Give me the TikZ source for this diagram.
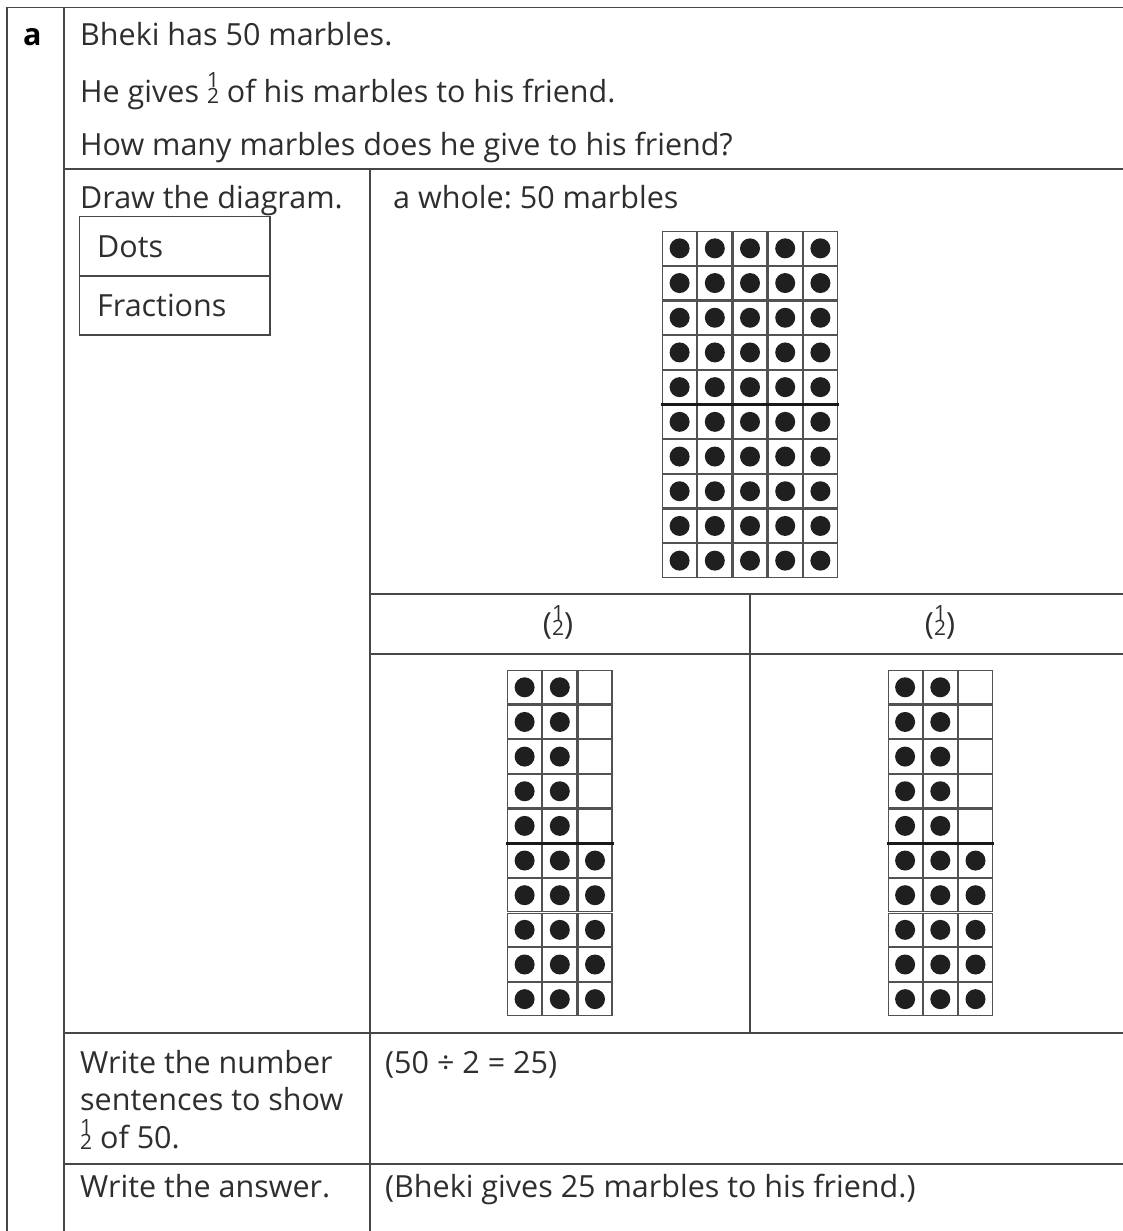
\documentclass[tikz,border=0pt]{standalone}
\usepackage{fontspec}
\setmainfont{Open Sans}
\frenchspacing
\newcommand\hlf{\raisebox{-1.5pt}{\fontsize{21}{15.5}\selectfont\vbox{\halign{\hfil##\hfil\cr 1\cr 2\cr}}}}
\tikzset{
  tline/.style={draw=black!72, line width=1.4pt},
  cellbox/.style={draw=black!68, line width=1.1pt},
  marble/.style={fill=black!88},
  midbar/.style={draw=black!90, line width=3pt},
  txt/.style={anchor=base west, inner sep=0pt, font=\fontsize{30.5}{36}\selectfont, text=black!82},
}
\begin{document}
\begin{tikzpicture}[x=1pt,y=-1pt]
\useasboundingbox (0,0) rectangle (1123,1231);
% table lines
\draw[tline] (1123,7.5) -- (7,7.5) -- (7,1231);
\draw[tline] (64,7.5) -- (64,1231);
\draw[tline] (64,169) -- (1123,169);
\draw[tline] (370,169) -- (370,1231);
\draw[tline] (370,594) -- (1123,594);
\draw[tline] (370,654) -- (1123,654);
\draw[tline] (750,594) -- (750,1033);
\draw[tline] (64,1033) -- (1123,1033);
\draw[tline] (64,1164) -- (1123,1164);
% Dots / Fractions box
\draw[tline] (79.5,216.5) rectangle (270,335);
\draw[tline] (79.5,276) -- (270,276);
% texts
\node[txt,font=\fontsize{30.5}{36}\selectfont\bfseries,text=black] (lbl) at (23,46) {a};
\node[txt] (t1) at (80,46) {Bheki has 50 marbles.};
\node[txt] (t2) at (80,102) {He gives \hlf\ of his marbles to his friend.};
\node[txt] (t3) at (80,155) {How many marbles does he give to his friend?};
\node[txt] (t4) at (80,208) {Draw the diagram.};
\node[txt] (t5) at (97,257) {Dots};
\node[txt] (t6) at (97,316) {Fractions};
\node[txt] (t7) at (393,208) {a whole: 50 marbles};
\node[txt,anchor=base] (h1) at (558,634) {(\hlf)};
\node[txt,anchor=base] (h2) at (940,634) {(\hlf)};
\node[txt] (t8) at (80,1073) {Write the number};
\node[txt] (t9) at (80,1110) {sentences to show};
\node[txt] (t10) at (80,1148) {\hlf\ of 50.};
\node[txt] (t11) at (385,1073) {(50 ÷ 2 = 25)};
\node[txt] (t12) at (80,1197) {Write the answer.};
\node[txt] (t13) at (385,1197) {(Bheki gives 25 marbles to his friend.)};
% top grid 5x10
\foreach \c in {0,...,4}{
  \foreach \r in {0,...,9}{
    \draw[cellbox] ({662+35.2*\c+0.6},{231+34.7*\r+0.6}) rectangle +(34,33.5);
    \fill[marble] ({662+35.2*\c+17.6},{231+34.7*\r+17.35}) circle (10pt);
  }
}
\draw[midbar] (661,404.5) -- (839,404.5);
% bottom grids 3x10
\foreach \gx in {507,887.5}{
  \foreach \c in {0,1,2}{
    \foreach \r in {0,...,9}{
      \draw[cellbox] ({\gx+35.2*\c+0.6},{670+34.65*\r+0.6}) rectangle +(34,33.4);
    }
  }
  \foreach \c in {0,1}{
    \foreach \r in {0,...,9}{
      \fill[marble] ({\gx+35.2*\c+17.6},{670+34.65*\r+17.3}) circle (10pt);
    }
  }
  \foreach \r in {5,...,9}{
    \fill[marble] ({\gx+35.2*2+17.6},{670+34.65*\r+17.3}) circle (10pt);
  }
  \draw[midbar] ({\gx-1},843.3) -- ({\gx+106.6},843.3);
}
\end{tikzpicture}
\end{document}
